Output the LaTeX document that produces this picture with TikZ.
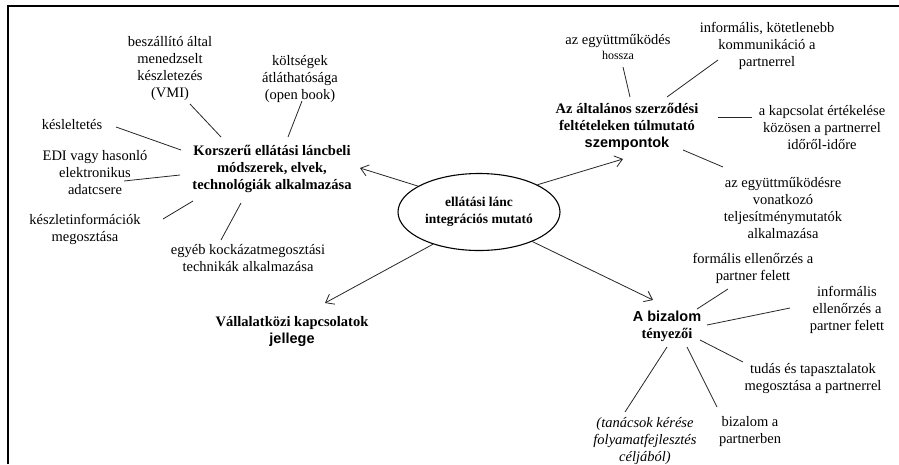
\documentclass[tikz,border=0pt]{standalone}
\usepackage{fontspec}
\setmainfont{Liberation Serif}
\newfontfamily\arialfont{Liberation Sans}
\usetikzlibrary{arrows.meta,shapes.geometric}
\newcommand\leaffont{\fontsize{14.5}{17}\selectfont}
\newcommand\smallleaf{\fontsize{12}{14}\selectfont}
\tikzset{
  leaf/.style={align=center,font=\leaffont,inner sep=1pt},
  hub/.style={align=center,font=\leaffont\bfseries,inner sep=1pt},
  spoke/.style={line width=0.8pt,black!85},
  link/.style={-{Straight Barb[length=2.6mm,width=4mm]},line width=0.8pt,black!85},
}
\begin{document}
\begin{tikzpicture}[x=1pt,y=-1pt]
  \useasboundingbox (0,0) rectangle (899,464);
  \draw[line width=1.3pt] (8,464) -- (8,6) -- (899,6);
  % centre
  \node[ellipse,draw,line width=1.1pt,minimum width=162,minimum height=77,hub,inner sep=0pt,font=\fontsize{13.5}{17}\selectfont\bfseries](ell) at (479,212){ellátási lánc\\integrációs mutató};
  % main factors
  \node[hub](kor) at (272,169){Korszerű ellátási láncbeli\\módszerek, elvek,\\technológiák alkalmazása};
  \node[hub](vall) at (292,331){Vállalatközi kapcsolatok\\{\arialfont jellege}};
  \node[hub](szerz) at (627,127){Az általános szerződési\\feltételeken túlmutató\\{\arialfont szempontok}};
  \node[hub](biz) at (667,326){{\arialfont A bizalom}\\tényezői};
  \draw[link](ell.157)--([shift={(88,-1)}]kor.center);
  \draw[link](ell.215)--([shift={(33,-28)}]vall.center);
  \draw[link](ell.25)--([shift={(-4,32)}]szerz.center);
  \draw[link](ell.-29)--([shift={(-14,-26)}]biz.center);
  % methods
  \node[leaf](vmi) at (170,68){beszállító által\\menedzselt\\készletezés\\(VMI)};
  \node[leaf](open) at (300,79){költségek\\átláthatósága\\(open book)};
  \node[leaf](kes) at (72,125){késleltetés};
  \node[leaf](edi) at (95,173){EDI vagy hasonló\\elektronikus\\adatcsere};
  \node[leaf](kinf) at (85,229){készletinformációk\\megosztása};
  \node[leaf](kock) at (248,258){egyéb kockázatmegosztási\\technikák alkalmazása};
  \draw[spoke]([shift={(20,36)}]vmi.center)--([shift={(-51,-32)}]kor.center);
  \draw[spoke]([shift={(2,22)}]open.center)--([shift={(16,-32)}]kor.center);
  \draw[spoke]([shift={(44,2)}]kes.center)--([shift={(-91,-19)}]kor.center);
  \draw[spoke]([shift={(29,8)}]edi.center)--([shift={(-92,6)}]kor.center);
  \draw[spoke]([shift={(78,-10)}]kinf.center)--([shift={(-79,32)}]kor.center);
  \draw[spoke]([shift={(-27,-18)}]kock.center)--([shift={(-31,34)}]kor.center);
  % beyond the contract
  \node[leaf](hossz) at (618,47){az együttműködés\\[-2pt]{\smallleaf hossza}};
  \node[leaf](inf) at (767,46){informális, kötetlenebb\\kommunikáció a\\partnerrel};
  \node[leaf](kapcs) at (822,128){a kapcsolat értékelése\\közösen a partnerrel\\időről-időre};
  \node[leaf](telj) at (783,208){az együttműködésre\\vonatkozó\\teljesítménymutatók\\alkalmazása};
  \draw[spoke]([shift={(5,20)}]hossz.center)--([shift={(3,-30)}]szerz.center);
  \draw[spoke]([shift={(40,-30)}]szerz.center)--([shift={(-49,14)}]inf.center);
  \draw[spoke]([shift={(91,-10)}]szerz.center)--([shift={(-70,-11)}]kapcs.center);
  \draw[spoke]([shift={(56,23)}]szerz.center)--([shift={(-60,-41)}]telj.center);
  % trust
  \node[leaf](form) at (753,268){formális ellenőrzés a\\partner felett};
  \node[leaf](infell) at (847,310){informális\\ellenőrzés a\\partner felett};
  \node[leaf](tudas) at (813,379){tudás és tapasztalatok\\megosztása a partnerrel};
  \node[leaf,font=\leaffont\itshape](tan) at (645,441){(tanácsok kérése\\folyamatfejlesztés\\céljából)};
  \node[leaf](bizp) at (750,432){bizalom a\\partnerben};
  \draw[spoke]([shift={(30,-17)}]biz.center)--([shift={(-25,21)}]form.center);
  \draw[spoke]([shift={(40,-1)}]biz.center)--([shift={(-57,-2)}]infell.center);
  \draw[spoke]([shift={(33,14)}]biz.center)--([shift={(-70,-17)}]tudas.center);
  \draw[spoke]([shift={(0,21)}]biz.center)--([shift={(-20,-29)}]tan.center);
  \draw[spoke]([shift={(20,21)}]biz.center)--([shift={(-33,-25)}]bizp.center);
\end{tikzpicture}
\end{document}
